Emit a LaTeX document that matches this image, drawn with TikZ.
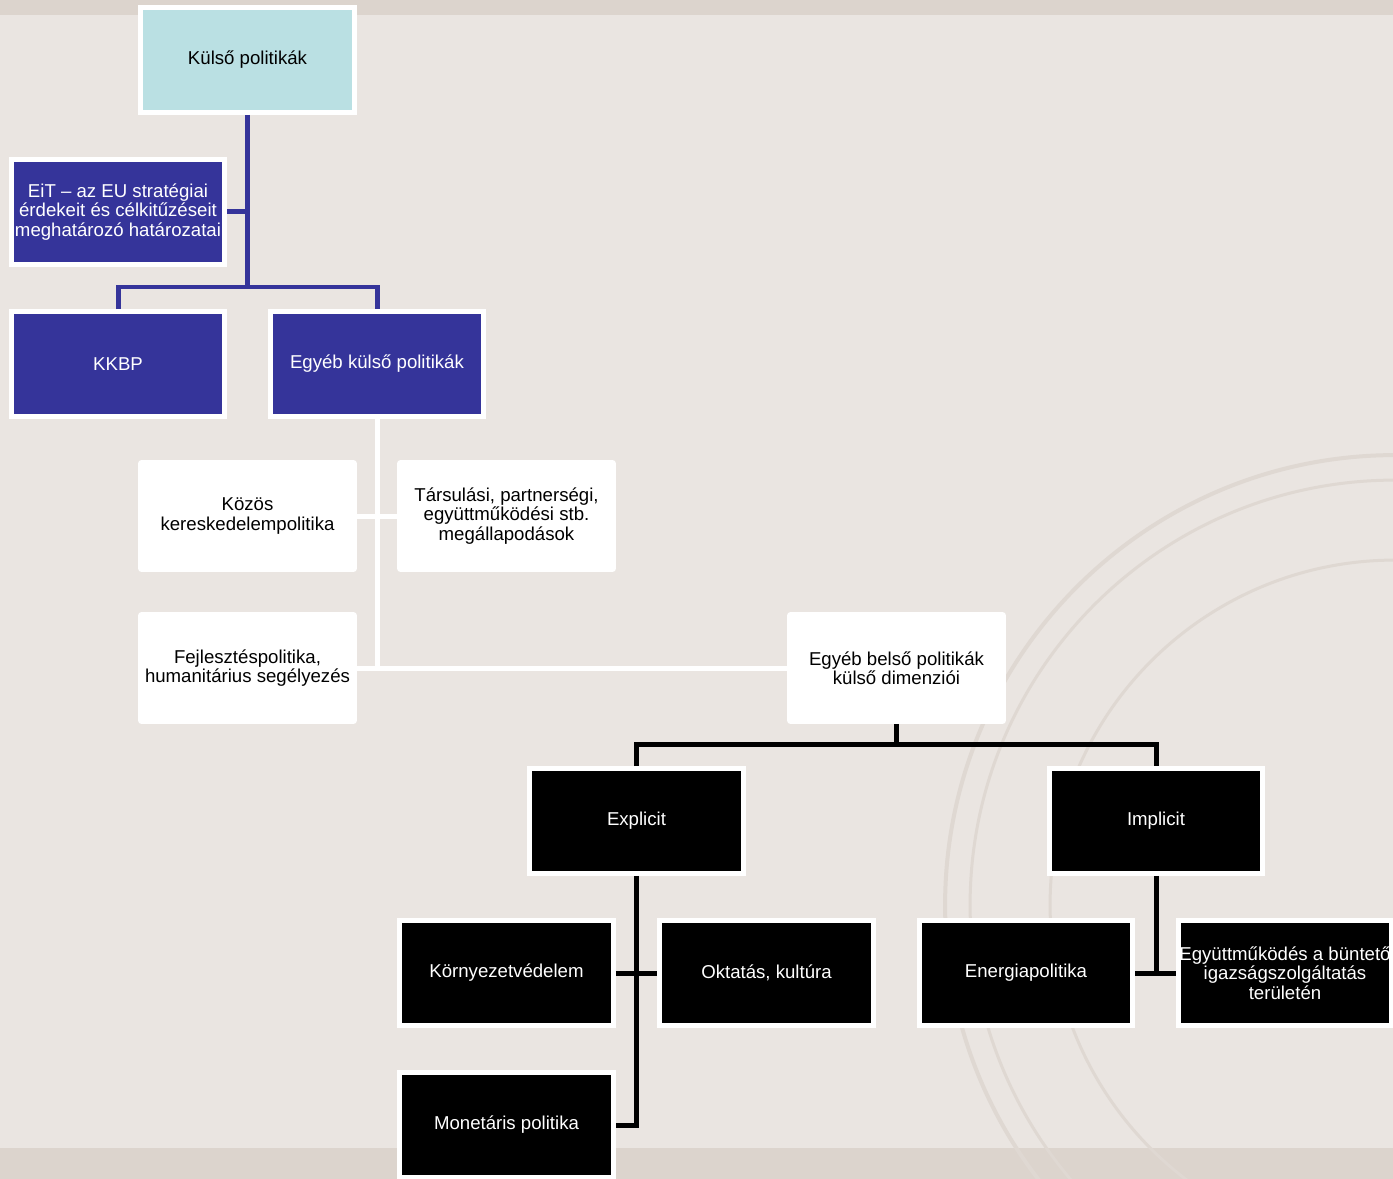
\documentclass[tikz,border=0pt]{standalone}
\usepackage{fontspec}
\setmainfont{Liberation Sans}
\definecolor{bgpaper}{HTML}{EAE5E1}
\definecolor{bgband}{HTML}{DCD4CD}
\definecolor{sealgray}{HTML}{DFD8D2}
\definecolor{kkteal}{HTML}{BAE0E3}
\definecolor{kknavy}{HTML}{35349A}

\begin{document}
\begin{tikzpicture}[x=0.02cm, y=-0.02cm,
  every node/.style={font=\fontsize{10.6}{11.1}\selectfont, align=center, inner sep=0pt},
  framed/.style={draw=white, line width=0.1cm, minimum width=4.28cm, minimum height=2.1cm},
  tealbox/.style={framed, fill=kkteal, text=black},
  navybox/.style={framed, fill=kknavy, text=white},
  blackbox/.style={framed, fill=black, text=white},
  plainbox/.style={fill=white, text=black, rounded corners=2pt, minimum width=4.38cm, minimum height=2.24cm, outer sep=0pt},
  navylink/.style={draw=kknavy, line width=0.1cm},
  whitelink/.style={draw=white, line width=0.1cm},
  blacklink/.style={draw=black, line width=0.1cm}]
\useasboundingbox (0,0) rectangle (1393,1179);
\clip (0,0) rectangle (1393,1179);
\fill[bgpaper] (0,0) rectangle (1393,1179);
\fill[bgband] (0,0) rectangle (1393,15);
\fill[bgband] (0,1148) rectangle (1393,1179);
\draw[sealgray, line width=0.08cm] (1395,905) circle[radius=9cm];
\draw[sealgray, line width=0.06cm] (1395,905) circle[radius=8.5cm];
\draw[sealgray, line width=0.06cm] (1395,905) circle[radius=6.9cm];
\node[tealbox] (kulso) at (247.5,60) {Külső politikák};
\node[navybox] (eit) at (118,212) {EiT – az EU stratégiai\\érdekeit és célkitűzéseit\\meghatározó határozatai};
\node[navybox] (kkbp) at (118,364) {KKBP};
\node[navybox] (egyebk) at (377,364) {Egyéb külső politikák};
\node[plainbox] (kozos) at (247.5,516) {Közös\\kereskedelempolitika};
\node[plainbox] (tars) at (506.5,516) {Társulási, partnerségi,\\együttműködési stb.\\megállapodások};
\node[plainbox] (fejl) at (247.5,668) {Fejlesztéspolitika,\\humanitárius segélyezés};
\node[plainbox] (belso) at (896.5,668) {Egyéb belső politikák\\külső dimenziói};
\node[blackbox] (explicit) at (636.5,821) {Explicit};
\node[blackbox] (implicit) at (1156,821) {Implicit};
\node[blackbox] (korny) at (506.5,973) {Környezetvédelem};
\node[blackbox] (oktatas) at (766.5,973) {Oktatás, kultúra};
\node[blackbox] (energia) at (1026,973) {Energiapolitika};
\node[blackbox] (egyutt) at (1285,973) {Együttműködés a büntető\\igazságszolgáltatás\\területén};
\node[blackbox] (monet) at (506.5,1125) {Monetáris politika};
\coordinate (upjoin) at (247.5,287);
\coordinate (lowjoin) at (896.5,744);
\draw[navylink] (kulso.south) -- (upjoin);
\draw[navylink] (kkbp.north) |- (upjoin) -| (egyebk.north);
\draw[navylink] (eit.east) -- (eit.east -| kulso.south);
\draw[whitelink] (egyebk.south) |- (belso.west);
\draw[whitelink] (kozos.east) -- (tars.west);
\draw[whitelink] (fejl.east) -- (fejl.east -| egyebk.south);
\draw[blacklink] (belso.south) -- (lowjoin);
\draw[blacklink] (explicit.north) |- (lowjoin) -| (implicit.north);
\draw[blacklink] (explicit.south) |- (monet.east);
\draw[blacklink] (korny.east) -- (oktatas.west);
\draw[blacklink] (implicit.south) -- (implicit.south |- energia.east);
\draw[blacklink] (energia.east) -- (egyutt.west);
\end{tikzpicture}
\end{document}
